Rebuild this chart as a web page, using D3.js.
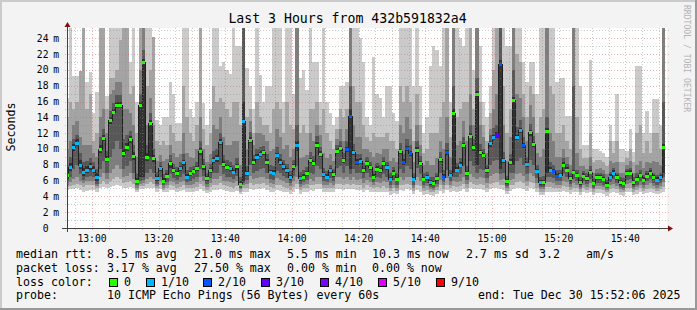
<!DOCTYPE html>
<html><head><meta charset="utf-8">
<script src="https://cdn.jsdelivr.net/npm/d3@7"></script>
<style>
html,body{margin:0;padding:0;background:#f3f3f3;}
svg{display:block;}
text{font-family:"DejaVu Sans Mono",monospace;}
</style>
</head><body>
<svg id="chart" width="697" height="310"></svg>
<script>
// ---------------- data ----------------
const titleText = "Last 3 Hours from 432b591832a4";
const startTime = new Date(2025, 11, 30, 12, 52, 0);   // first 60 s step
const viewStart = new Date(2025, 11, 30, 12, 52, 30);
const viewEnd   = new Date(2025, 11, 30, 15, 52, 30);
const stepMinutes = 1;

const median = [
6.7,7.7,10.2,10.8,8.0,7.1,7.4,7.8,7.4,6.4, 10.0,11.4,8.7,13.6,14.7,15.6,15.6,9.5,10.2,11.2,
9.1,6.0,15.6,21.0,9.0,13.3,8.8,6.3,7.6,6.0, 6.6,8.2,7.3,6.9,7.6,8.3,6.5,6.9,7.2,7.6,
9.7,7.8,6.3,7.3,8.6,8.8,10.9,8.1,7.7,7.6, 7.1,7.8,5.6,13.5,6.9,11.1,8.4,9.0,9.4,9.6,
8.4,7.1,7.0,9.2,8.4,7.8,7.3,6.4,7.8,10.5, 6.3,6.5,6.9,8.6,8.2,10.5,9.4,6.8,6.5,7.3,
6.8,9.7,10.1,8.6,10.0,14.2,9.6,8.4,8.5,7.3, 8.2,7.7,6.5,7.5,7.3,8.2,7.7,6.2,7.0,6.2,
9.7,8.4,10.1,9.5,6.2,9.9,8.2,6.2,6.4,5.8, 5.7,6.3,8.7,6.5,9.6,6.7,14.5,7.4,8.0,10.5,
6.9,11.7,10.2,16.9,9.6,9.2,7.3,10.7,11.5,11.8, 20.7,8.6,5.9,8.4,16.2,11.5,12.4,10.5,8.1,12.1,
10.6,7.2,5.8,5.8,12.3,7.4,7.2,6.6,6.7,8.0, 7.4,6.3,7.1,6.7,5.8,6.6,6.3,7.1,5.7,6.4,
6.4,6.2,5.5,6.5,7.0,6.4,5.8,5.7,6.9,7.0, 5.8,6.2,6.7,6.1,6.6,7.0,6.4,6.1,6.4,10.3];

const lossCount = [
0,1,1,1,1,1,1,1,1,1, 0,0,0,0,0,0,0,0,0,0, 0,0,0,0,0,0,0,1,1,0,
0,0,0,0,1,1,1,0,0,0, 0,0,0,0,1,1,1,0,0,1, 1,0,0,1,1,0,0,1,1,0,
0,1,1,1,1,1,1,1,0,1, 1,0,0,0,0,0,0,1,1,1, 0,0,0,0,2,2,1,2,1,0,
0,0,0,0,0,0,1,1,0,0, 0,2,2,2,1,0,0,0,1,1, 0,0,0,2,2,1,0,1,1,0,
0,0,0,0,0,0,0,1,1,3, 2,1,0,0,0,1,1,2,1,0, 0,1,1,0,0,1,2,2,1,0,
0,0,0,0,0,0,0,0,0,0, 0,0,0,1,1,0,0,0,0,0, 0,0,0,0,0,0,0,1,1,0];

// sorted ping rtts (ms) per step: p1 lowest ... p10 highest
const p10 = [
16.5,25.6,19.2,19.2,19.8,25.6,18.5,19.7,14.5,17.2, 25.6,25.6,16.7,25.6,25.6,25.6,25.6,25.6,25.6,21.0,
25.6,15.9,25.6,25.6,25.6,25.6,24.1,13.7,13,14, 14,18.5,17,13.3,13.3,25.6,25.6,15,14,16,
25.6,15.8,13,15,25.6,25.6,20.5,21.0,20,19.5, 25.6,23,23,25.6,20.3,18,15,25.6,19.3,16,
18,18,25.6,25.6,25.6,16,25.6,25.6,17,25.6, 19,20,17.5,25.6,21,21,16,25.6,16,14.5,
13,14,18,18,18.5,25.6,25.6,25.6,24,21, 14,13,21.6,17,16.5,14,18,18,14.5,13.5,
25.6,25.6,25.6,25.6,18,25.6,18,12,14,20.5, 23,22.5,20.5,25.6,25.6,16,25.6,25.6,24,23,
25.6,25.6,20,25.6,23,16,14,18,25.6,25.6, 25.6,25.6,23,23,25.6,25.6,25.6,21,18.5,21,
21,17,25.6,25.6,25.6,25.6,25.6,18.5,19,19, 14.2,14.2,25.6,25.6,18,10.5,10.5,21.2,10,10,
9.8,9.5,9,13,11,17,10,10,9.8,12.5, 9.6,20.5,20.5,12,14.8,12,16.3,16.3,13,25.6];
const p9 = [
14,16,15,16,19.8,25.6,15,16.9,11,12, 25.6,25.6,15,19,19,20,23.8,25.6,25.6,17,
18,12,25.6,25.6,18,20,24.1,11,10.5,11, 10.5,13,12,11,11,18,14,12,11,13,
25.6,12.5,10.5,12,18,16,16.5,16,15,14, 16,16,13,25.6,14,15,12,16,14,13,
13,12,15,16,15,12,16,13,12.5,25.6, 12,13,12,15,15,16,13,15,12,11,
10,12.5,15,14,15,25.6,18,16,16,13, 11.5,11,12,11.5,11.5,11.5,12,11,11,10,
18,16,18,16,11,17,13,9.5,10,12, 12,12,14,16,25.6,11.5,25.6,14,15,16,
16,25.6,15,25.6,16,13,11,14.5,20,25.6, 25.6,18,12,15,25.6,22,21,17,14,18,
17,12,14,15,25.6,18,17,12,12,13, 11,10,25.6,14,10,8.8,8.8,12,8.3,8.6,
8.6,8.3,7.8,11,9.5,11,8.3,8.3,8.8,10, 8.3,12,13,9.5,11,9.5,12,12,10,25.6];
const p8 = [
10,11,13,13.5,11.5,10.5,10.5,10.5,9.5,9, 14,15,12,17,17.5,18.5,18.5,15,15,14.5,
13,9,20,25.6,13,16.5,13,8.5,9.2,8.5, 8.7,10.5,9.5,9,9.3,12,9.5,9,8.8,10,
14,10,8.3,9.3,13,12.5,14,11.5,10.5,10.5, 11,11,8,25.6,10,13.5,10.5,12,12,11.8,
11,9.8,10,12.5,11.5,10,10.5,9,10,25.6, 8.8,9,9.2,12,11,13,11.8,9.5,8.8,9.3,
8.5,11.2,12.5,11,12.5,25.6,13,11.5,11.5,10, 10,9.6,9,9.5,9.3,10,10,8.5,8.8,8.3,
13,12,14,12.5,8.3,13,10.5,8,8.5,8, 8,8.8,11,10,14,9,25.6,10.5,11,13.5,
11,17,13,25.6,13,11.5,9.5,12.5,15,17, 25.6,13,8.5,11.5,25.6,17,16.5,14,11,15.5,
14,9.5,9,10,25.6,12,11,9,9,10, 9,8,25.6,9.5,7.8,7.8,7.5,9,7,7.5,
7.6,7.4,6.8,8.5,8.2,8.3,7,7,8,8.5, 7,8,8.5,7.6,8.3,8.2,8.5,8.3,8,25.6];
const p7 = [
8.0,9.0,11.2,11.8,9.5,8.4,8.5,8.8,8.3,7.5, 11.5,12.5,9.8,14.8,15.8,16.8,16.8,11.2,11.8,12.3,
10.5,6.9,17,22.5,10.5,14.5,10,7.1,8.3,6.8, 7.4,9.2,8.1,7.7,8.3,9.4,7.4,7.7,7.9,8.4,
11,8.7,7.0,8.1,9.8,10,12,9.2,8.6,8.4, 8,8.8,6.4,25.6,7.8,12.2,9.2,10,10.3,10.4,
9.3,8,7.9,10.2,9.3,8.6,8.1,7.2,8.6,13, 7.1,7.3,7.7,9.6,9.1,11.6,10.2,7.6,7.2,8.0,
7.5,10.5,11,9.5,11,18,10.6,9.4,9.4,8.2, 9,8.4,7.2,8.2,8,9,8.4,6.9,7.7,6.9,
10.8,9.4,11.2,10.5,6.9,11,9.1,6.9,7.1,6.5, 6.4,7,9.6,7.3,10.8,7.4,18,8.2,8.9,11.5,
7.8,13,11.3,19,10.6,10,8,11.8,12.6,13, 25.6,9.6,6.6,9.3,20,12.8,13.6,11.5,9,13.2,
11.6,8,6.5,6.6,14,8.3,8,7.3,7.4,8.8, 8.1,7,18,7.4,6.4,7.2,6.9,7.8,6.3,7.0,
7.0,6.8,6.1,7.1,7.6,7.0,6.4,6.3,7.5,7.6, 6.4,6.9,7.3,6.7,7.2,7.6,7.0,6.7,7.0,16];
const p6 = [
7.2,8.2,10.6,11.2,8.6,7.6,7.8,8.2,7.8,6.9, 10.5,11.8,9.1,14,15,16,16,10,10.8,11.6,
9.6,6.3,16,21.4,9.5,13.7,9.2,6.6,7.9,6.3, 6.9,8.5,7.6,7.2,7.9,8.6,6.8,7.2,7.5,7.9,
10.1,8.1,6.6,7.6,9,9.2,11.3,8.5,8.0,7.9, 7.4,8.1,5.9,16,7.2,11.5,8.7,9.3,9.7,9.9,
8.7,7.4,7.3,9.5,8.7,8.1,7.6,6.7,8.1,11, 6.6,6.8,7.2,8.9,8.5,10.9,9.7,7.1,6.8,7.6,
7.1,10.0,10.4,8.9,10.3,15,9.9,8.7,8.8,7.6, 8.5,8.0,6.8,7.8,7.6,8.5,8.0,6.5,7.3,6.5,
10.0,8.7,10.4,9.8,6.5,10.2,8.5,6.5,6.7,6.1, 6.0,6.6,9.0,6.8,9.9,7.0,15,7.7,8.3,10.8,
7.2,12.0,10.5,17.3,9.9,9.5,7.6,11.0,11.8,12.1, 21.2,8.9,6.2,8.7,16.6,11.8,12.7,10.8,8.4,12.4,
10.9,7.5,6.1,6.1,12.6,7.7,7.5,6.9,7.0,8.3, 7.7,6.6,7.4,7.0,6.1,6.9,6.6,7.4,6.0,6.7,
6.7,6.5,5.8,6.8,7.3,6.7,6.1,6.0,7.2,7.3, 6.1,6.5,7.0,6.4,6.9,7.3,6.7,6.4,6.7,10.6];
const p5 = [
6.2,7.2,9.8,10.4,7.5,6.6,7.0,7.4,7.0,5.9, 9.5,11.0,8.3,13.2,14.4,15.2,15.2,9.0,9.7,10.8,
8.6,5.7,6.4,6.5,8.5,9.0,8.4,6.0,7.2,5.7, 6.3,7.6,7.0,6.6,7.2,7.9,6.2,6.6,6.9,7.2,
9.2,7.4,6.0,7.0,8.2,8.4,10.5,7.7,7.3,7.2, 6.8,7.4,5.3,6.0,6.6,10.7,8.0,8.6,9.0,9.2,
8.0,6.8,6.7,8.8,8.0,7.4,7.0,6.1,7.4,9.8, 6.0,6.2,6.6,8.2,7.8,10.1,9.0,6.5,6.2,7.0,
6.5,9.3,9.7,8.2,9.6,7.5,9.2,8.0,8.1,7.0, 7.8,7.3,6.2,7.2,7.0,7.8,7.3,5.9,6.7,5.9,
9.3,8.0,9.7,9.1,5.9,9.5,7.8,5.9,6.1,5.5, 5.4,6.0,8.3,6.2,9.2,6.4,7.0,7.1,7.7,10.1,
6.6,11.4,9.8,8.0,9.2,8.8,7.0,10.3,11.1,11.4, 7.5,8.2,5.6,8.0,8.0,11.1,12.0,10.1,7.7,11.7,
10.2,6.9,5.5,5.5,7.0,7.1,6.9,6.3,6.4,7.7, 7.1,6.0,6.8,6.4,5.5,6.3,6.0,6.8,5.4,6.1,
6.1,5.9,5.2,6.2,6.7,6.1,5.5,5.4,6.6,6.7, 5.5,5.9,6.4,5.8,6.3,6.7,6.1,5.8,6.1,7.0];
const p4 = [
5.9,6.5,7.5,8,6.8,6.1,6.4,6.6,6.4,5.6, 7.5,8.5,7.0,9.0,10,11,10,7.5,7.8,8.5,
7.0,5.4,6.0,6.1,7.0,7.5,7.0,5.6,6.4,5.4, 5.8,6.8,6.3,6.1,6.4,6.8,5.8,6.0,6.2,6.5,
7.5,6.6,5.6,6.3,7.0,7.0,8.0,6.8,6.5,6.5, 6.2,6.6,5.1,5.7,6.1,8.0,7.0,7.2,7.5,7.6,
7.0,6.2,6.1,7.2,6.9,6.6,6.3,5.7,6.6,7.8, 5.6,5.8,6.1,7.0,6.8,7.8,7.5,6.0,5.8,6.3,
6.0,7.6,7.8,7.0,7.8,6.8,7.5,6.9,7.0,6.3, 6.9,6.5,5.8,6.4,6.3,6.8,6.5,5.5,6.1,5.5,
7.5,6.9,7.8,7.5,5.5,7.6,6.8,5.5,5.7,5.2, 5.1,5.6,7.0,5.8,7.4,5.9,6.4,6.4,6.8,7.8,
6.1,8.5,7.8,7.0,7.5,7.3,6.3,8.0,8.5,8.6, 6.8,7.0,5.3,6.9,7.0,8.5,8.8,8.0,6.8,8.6,
8.0,6.3,5.2,5.2,6.4,6.4,6.3,5.9,6.0,6.8, 6.4,5.6,6.2,6.0,5.2,5.9,5.6,6.2,5.1,5.7,
5.7,5.5,5.0,5.8,6.2,5.7,5.2,5.1,6.1,6.2, 5.2,5.5,5.9,5.4,5.9,6.2,5.7,5.4,5.7,6.4];
const p3 = [
5.5,5.8,6.2,6.5,6.0,5.7,5.9,6.0,6.0,5.3, 6.4,7.0,6.2,7.0,7.5,8,7.5,6.5,6.6,7.0,
6.2,5.1,5.6,5.7,6.2,6.5,6.2,5.3,5.9,5.1, 5.4,6.0,5.8,5.6,5.8,6.0,5.4,5.5,5.6,5.8,
6.4,5.9,5.2,5.7,6.2,6.2,6.6,6.0,5.9,5.8, 5.7,5.9,4.9,5.4,5.6,6.6,6.2,6.3,6.4,6.5,
6.2,5.7,5.6,6.3,6.1,5.9,5.7,5.3,5.9,6.5, 5.2,5.4,5.6,6.2,6.0,6.5,6.4,5.5,5.4,5.7,
5.5,6.4,6.5,6.2,6.5,6.1,6.4,6.1,6.2,5.7, 6.1,5.8,5.4,5.8,5.7,6.0,5.8,5.1,5.5,5.1,
6.4,6.1,6.5,6.4,5.1,6.4,6.0,5.1,5.3,4.9, 4.8,5.2,6.1,5.4,6.3,5.5,5.9,5.8,6.0,6.5,
5.6,6.8,6.5,6.2,6.4,6.3,5.7,6.6,6.8,6.9, 6.1,6.2,5.0,6.1,6.2,6.8,7.0,6.6,6.0,6.9,
6.6,5.7,4.9,4.9,5.8,5.8,5.7,5.5,5.5,6.0, 5.8,5.2,5.7,5.5,4.9,5.5,5.2,5.7,4.9,5.3,
5.3,5.2,4.8,5.4,5.6,5.3,4.9,4.8,5.6,5.7, 4.9,5.2,5.5,5.1,5.4,5.7,5.3,5.1,5.3,5.8];
const p2 = [
5.2,5.3,5.4,5.6,5.4,5.2,5.4,5.5,5.5,5.0, 5.6,6.0,5.6,6.0,6.2,6.5,6.2,5.7,5.8,6.0,
5.6,4.8,5.3,5.3,5.6,5.8,5.6,5.0,5.4,4.8, 5.0,5.4,5.3,5.1,5.2,5.4,5.0,5.0,5.1,5.2,
5.6,5.3,4.8,5.2,5.5,5.5,5.7,5.4,5.3,5.2, 5.1,5.3,4.6,5.0,5.1,5.7,5.5,5.6,5.6,5.7,
5.5,5.2,5.1,5.5,5.4,5.2,5.1,4.8,5.2,5.6, 4.8,5.0,5.1,5.5,5.4,5.6,5.6,5.0,5.0,5.1,
5.0,5.6,5.6,5.5,5.6,5.5,5.6,5.4,5.5,5.1, 5.4,5.2,5.0,5.2,5.1,5.3,5.1,4.7,5.0,4.7,
5.5,5.4,5.6,5.5,4.7,5.5,5.3,4.7,4.8,4.6, 4.5,4.8,5.4,4.9,5.5,5.0,5.3,5.2,5.3,5.6,
5.0,5.8,5.6,5.5,5.6,5.5,5.1,5.6,5.7,5.8, 5.5,5.5,4.7,5.4,5.5,5.8,5.9,5.7,5.3,5.8,
5.7,5.1,4.6,4.6,5.2,5.2,5.1,5.0,5.0,5.3, 5.2,4.8,5.1,5.0,4.6,5.0,4.8,5.1,4.6,4.9,
4.9,4.8,4.5,4.9,5.0,4.9,4.6,4.5,5.0,5.1, 4.6,4.8,5.0,4.7,4.9,5.1,4.9,4.7,4.9,5.2];
const p1 = [
4.8,4.9,4.9,5.0,4.8,4.5,4.7,4.8,4.8,4.6, 5.0,5.2,5.0,5.2,5.3,5.4,5.3,5.0,5.0,5.2,
5.0,4.5,4.9,4.9,5.0,5.1,5.0,4.6,4.9,4.5, 4.6,4.8,4.8,4.6,4.7,4.8,4.5,4.5,4.6,4.7,
4.9,4.7,4.4,4.6,4.8,4.8,4.9,4.8,4.7,4.6, 4.6,4.7,4.3,4.6,4.6,4.9,4.8,4.9,4.9,5.0,
4.8,4.6,4.6,4.8,4.7,4.6,4.5,4.3,4.6,4.9, 4.3,4.5,4.6,4.8,4.7,4.9,4.9,4.5,4.5,4.6,
4.5,4.9,4.9,4.8,4.9,4.9,4.9,4.8,4.8,4.6, 4.8,4.6,4.5,4.6,4.5,4.6,4.5,4.2,4.4,4.3,
4.8,4.7,4.9,4.8,4.3,4.8,4.6,4.2,4.3,4.2, 4.1,4.3,4.7,4.4,4.8,4.5,4.7,4.6,4.7,4.9,
4.5,5.0,4.9,4.9,4.9,4.8,4.5,4.9,5.0,5.0, 4.9,4.8,4.3,4.7,4.9,5.0,5.0,4.9,4.7,5.0,
4.9,4.5,4.2,4.2,4.6,4.6,4.5,4.5,4.5,4.7, 4.6,4.3,4.5,4.5,4.2,4.5,4.4,4.5,4.2,4.4,
4.4,4.3,4.1,4.4,4.5,4.4,4.2,4.1,4.5,4.5, 4.2,4.3,4.5,4.3,4.4,4.5,4.4,4.3,4.4,4.6];

const yTicks = [0,2,4,6,8,10,12,14,16,18,20,22,24];
const yUnit = "m";
const lossLabels = ["0","1/10","2/10","3/10","4/10","5/10","9/10"];
const lossColors = ["#26ff00","#00b8ff","#0059ff","#5e00ff","#7e00ff","#dd00ff","#ff0000"];
const legendMedian = ["median rtt:","8.5 ms avg","21.0 ms max","5.5 ms min","10.3 ms now","2.7 ms sd","3.2","am/s"];
const legendLoss = ["packet loss:","3.17 % avg","27.50 % max","0.00 % min","0.00 % now"];
const legendProbe = ["probe:","10 ICMP Echo Pings (56 Bytes) every 60s","end: Tue Dec 30 15:52:06 2025"];
const smokeGreys = ["#cacaca","#a4a4a4","#7e7e7e","#585858","#323232"];

// ---------------- drawing ----------------
const svg = d3.select("#chart");
const L = 67, R = 667, T = 28, B = 228;
const x = d3.scaleTime().domain([viewStart, viewEnd]).range([L, R]);
const y = d3.scaleLinear().domain([0, 25.3]).range([B, T]);

// background + frame shading
svg.append("rect").attr("width",697).attr("height",310).attr("fill","#f3f3f3");
svg.append("rect").attr("x",0).attr("y",0).attr("width",697).attr("height",2).attr("fill","#cbcbcb");
svg.append("rect").attr("x",0).attr("y",0).attr("width",2).attr("height",310).attr("fill","#cbcbcb");
svg.append("rect").attr("x",0).attr("y",308).attr("width",697).attr("height",2).attr("fill","#999999");
svg.append("rect").attr("x",695).attr("y",0).attr("width",2).attr("height",310).attr("fill","#999999");
svg.append("rect").attr("x",L).attr("y",T).attr("width",R-L).attr("height",B-T).attr("fill","#ffffff");

svg.append("defs").append("clipPath").attr("id","plotclip")
  .append("rect").attr("x",L).attr("y",T).attr("width",R-L).attr("height",B-T);
const plot = svg.append("g").attr("clip-path","url(#plotclip)");

const n = median.length;
const times = d3.range(n + 1).map(i => d3.timeMinute.offset(startTime, i * stepMinutes));
const idx = d3.range(n + 1);
const vi = i => Math.min(i, n - 1);

const bands = [[p1,p10],[p2,p9],[p3,p8],[p4,p7],[p5,p6]];
bands.forEach((b, k) => {
  const area = d3.area()
    .curve(d3.curveStepAfter)
    .x(i => x(times[i]))
    .y0(i => y(b[0][vi(i)]))
    .y1(i => y(b[1][vi(i)]));
  plot.append("path").attr("d", area(idx)).attr("fill", smokeGreys[k])
    .attr("shape-rendering","crispEdges");
});

// median step line
const mline = d3.line().curve(d3.curveStepAfter)
  .x(i => x(times[i])).y(i => Math.round(y(median[vi(i)])) + 0.5);
plot.append("path").attr("d", mline(idx)).attr("fill","none")
  .attr("stroke","#202020").attr("stroke-width",1).attr("shape-rendering","crispEdges");

// loss-coloured median markers
function lossBin(c){ return c >= 9 ? 6 : c >= 5 ? 5 : c; }
plot.selectAll("rect.med").data(d3.range(n)).join("rect")
  .attr("x", i => Math.round(x(times[i])))
  .attr("width", i => Math.round(x(times[i+1])) - Math.round(x(times[i])))
  .attr("y", i => Math.round(y(median[i])) - 1)
  .attr("height", 3)
  .attr("fill", i => lossColors[lossBin(lossCount[i])])
  .attr("shape-rendering","crispEdges");

// grid (drawn over the data, like rrdtool)
const grid = svg.append("g").attr("shape-rendering","crispEdges");
const minorCol = "rgba(140,140,140,0.45)", majorCol = "rgba(210,90,90,0.45)";
const yMinor = d3.range(1, 26).filter(v => v % 2 === 1 && y(v) >= T);
yMinor.forEach(v => {
  grid.append("line").attr("x1",L-2).attr("x2",R+2).attr("y1",Math.round(y(v))+0.5).attr("y2",Math.round(y(v))+0.5)
    .attr("stroke",minorCol).attr("stroke-dasharray","1,2");
});
yTicks.filter(v => v > 0).forEach(v => {
  grid.append("line").attr("x1",L-2).attr("x2",R+2).attr("y1",Math.round(y(v))+0.5).attr("y2",Math.round(y(v))+0.5)
    .attr("stroke",majorCol).attr("stroke-dasharray","1,2");
});
const xMinor = x.ticks(d3.timeMinute.every(5)).filter(t => t.getMinutes() % 20 !== 0);
const xMajor = x.ticks(d3.timeMinute.every(20));
xMinor.forEach(t => {
  grid.append("line").attr("y1",T).attr("y2",B+2).attr("x1",Math.round(x(t))+0.5).attr("x2",Math.round(x(t))+0.5)
    .attr("stroke",minorCol).attr("stroke-dasharray","1,2");
});
xMajor.forEach(t => {
  grid.append("line").attr("y1",T).attr("y2",B+2).attr("x1",Math.round(x(t))+0.5).attr("x2",Math.round(x(t))+0.5)
    .attr("stroke",majorCol).attr("stroke-dasharray","1,2");
});

// axes
const axisCol = "#404040";
svg.append("line").attr("x1",L-5).attr("x2",R+2).attr("y1",B+0.5).attr("y2",B+0.5).attr("stroke",axisCol);
svg.append("line").attr("x1",L+0.5).attr("x2",L+0.5).attr("y1",B+4).attr("y2",T-2).attr("stroke",axisCol);
svg.append("path").attr("d",`M${R+1},${B-2.5}L${R+1},${B+3.5}L${R+6},${B+0.5}Z`).attr("fill","#801010");
svg.append("path").attr("d",`M${L-2.5},${T-1}L${L+3.5},${T-1}L${L+0.5},${T-6}Z`).attr("fill","#801010");

// y tick labels
const ylab = svg.append("g").attr("font-size","9.7px").attr("fill","#000");
yTicks.forEach(v => {
  ylab.append("text").attr("x",48.5).attr("y",y(v)+3.5).attr("text-anchor","end").text(d3.format("d")(v));
  if (v > 0) ylab.append("text").attr("x",53.3).attr("y",y(v)+3.5).text(yUnit);
});
// x tick labels
const xlab = svg.append("g").attr("font-size","9.7px").attr("fill","#000");
xMajor.forEach(t => {
  xlab.append("text").attr("x",x(t)).attr("y",241.5).attr("text-anchor","middle").text(d3.timeFormat("%H:%M")(t));
});

// title, unit label, watermark
svg.append("text").attr("x",347.5).attr("y",23).attr("text-anchor","middle")
  .attr("font-size","13.2px").attr("fill","#000").text(titleText);
svg.append("text").attr("transform","translate(14.5,127) rotate(-90)").attr("text-anchor","middle")
  .attr("font-size","11.6px").attr("fill","#000").text("Seconds");
svg.append("text").attr("transform","translate(683.5,5) rotate(90)")
  .attr("font-size","8.1px").attr("fill","#b4b4b4").text("RRDTOOL / TOBI OETIKER");

// legend
const lg = svg.append("g").attr("font-size","11.6px").attr("fill","#000");
const line1X = [16,107,194,287,372,466,539,586];
legendMedian.forEach((s,i) => lg.append("text").attr("x",line1X[i]).attr("y",258).text(s));
const line2X = [16,107,194,287,372];
legendLoss.forEach((s,i) => lg.append("text").attr("x",line2X[i]).attr("y",271.8).text(s));
lg.append("text").attr("x",16).attr("y",285.6).text("loss color:");
const boxX = [109,146,203,261,320,378,436];
lossLabels.forEach((s,i) => {
  lg.append("rect").attr("x",boxX[i]+0.5).attr("y",278.5).attr("width",8).attr("height",8)
    .attr("fill",lossColors[i]).attr("stroke","#000").attr("stroke-width",1).attr("shape-rendering","crispEdges");
  lg.append("text").attr("x",boxX[i]+15).attr("y",285.6).text(s);
});
const line4X = [16,107,478];
legendProbe.forEach((s,i) => lg.append("text").attr("x",line4X[i]).attr("y",299.4).text(s));
</script>
</body></html>
